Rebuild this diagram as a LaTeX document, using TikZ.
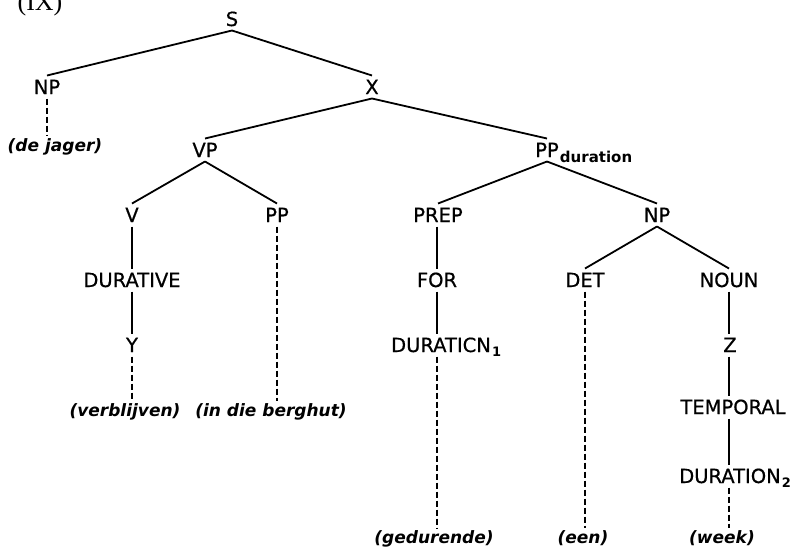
\documentclass[tikz,border=0pt]{standalone}
\usepackage{fontspec}
\setmainfont{DejaVu Sans}
\newfontfamily\labfont[FakeBold=0.6]{DejaVu Sans}
\newfontfamily\romfont{Liberation Serif}
\begin{document}
\begin{tikzpicture}[x=1pt,y=-1pt,
  lab/.style={font=\labfont\fontsize{19.5}{20}\selectfont, inner sep=0pt, outer sep=4.5pt, text height=14pt, text depth=0pt},
  leaf/.style={font=\fontsize{17}{18}\selectfont\bfseries\itshape, inner sep=0pt, outer sep=3pt, text height=12pt, text depth=0pt},
  subsc/.style={font=\fontsize{13}{13}\selectfont\bfseries, inner sep=0pt, anchor=base west},
  branch/.style={line width=1.8pt},
  stem/.style={line width=1.2pt},
  dashline/.style={line width=1.3pt, dash pattern=on 6pt off 3pt}]
\useasboundingbox (0,0) rectangle (796,547);

\node[font=\romfont\fontsize{26}{26}\selectfont, inner sep=0pt, anchor=base] (ix) at (40,10) {(IX)};

% tree labels
\node[lab] (S) at (232,19) {S};
\node[lab] (NPa) at (47,87) {NP};
\node[lab] (X) at (372,87) {X};
\node[leaf] (dejager) at (55,145) {(de jager)};
\node[lab] (VP) at (205,150) {VP};
\node[lab] (PPd) at (547,150) {PP};
\node[subsc, font=\fontsize{15}{15}\selectfont\bfseries] (ppsub) at ([xshift=-3.5pt,yshift=-5pt]PPd.base east) {duration};
\node[lab] (V) at (132,215) {V};
\node[lab] (PPb) at (277,215) {PP};
\node[lab] (PREP) at (438,215) {PREP};
\node[lab] (NPb) at (657,215) {NP};
\node[lab] (DURATIVE) at (132,280) {DURATIVE};
\node[lab] (FOR) at (437,280) {FOR};
\node[lab] (DET) at (585,280) {DET};
\node[lab] (NOUN) at (729,280) {NOUN};
\node[lab] (Y) at (132,345) {Y};
\node[lab] (DURa) at (441,345) {DURATICN};
\node[subsc] (dursuba) at ([xshift=-3.5pt,yshift=-4pt]DURa.base east) {1};
\node[lab] (Z) at (730,345) {Z};
\node[leaf] (verblijven) at (125,410) {(verblijven)};
\node[leaf] (berghut) at (271,410) {(in die berghut)};
\node[lab] (TEMPORAL) at (733,407) {TEMPORAL};
\node[lab] (DURb) at (730,476) {DURATION};
\node[subsc] (dursubb) at ([xshift=-3.5pt,yshift=-4pt]DURb.base east) {2};
\node[leaf] (gedurende) at (434,537) {(gedurende)};
\node[leaf] (een) at (583,537) {(een)};
\node[leaf] (week) at (722,537) {(week)};

% branches
\draw[branch] (S.south) -- (NPa.north);
\draw[branch] (S.south) -- (X.north);
\draw[branch] (X.south) -- (VP.north);
\draw[branch] (X.south) -- (PPd.north);
\draw[branch] (VP.south) -- (V.north);
\draw[branch] (VP.south) -- (PPb.north);
\draw[branch] (PPd.south) -- (PREP.north);
\draw[branch] (PPd.south) -- (NPb.north);
\draw[branch] (NPb.south) -- (DET.north);
\draw[branch] (NPb.south) -- (NOUN.north);

% solid stems
\draw[stem] (V.south) -- (DURATIVE.north);
\draw[stem] (DURATIVE.south) -- (Y.north);
\draw[stem] (PREP.south -| FOR.south) -- (FOR.north);
\draw[stem] (FOR.south) -- (FOR.south |- DURa.north);
\draw[stem] (NOUN.south) -- (Z.north -| NOUN.south);
\draw[stem] (Z.south -| NOUN.south) -- (NOUN.south |- TEMPORAL.north);
\draw[stem] (NOUN.south |- TEMPORAL.south) -- (NOUN.south |- DURb.north);

% dashed stems
\draw[dashline] (NPa.south) -- (NPa.south |- dejager.north);
\draw[dashline] (Y.south) -- (Y.south |- verblijven.north);
\draw[dashline] (PPb.south) -- (PPb.south |- berghut.north);
\draw[dashline] (FOR.south |- DURa.south) -- (FOR.south |- gedurende.north);
\draw[dashline] (DET.south) -- (DET.south |- een.north);
\draw[dashline] (NOUN.south |- DURb.south) -- (NOUN.south |- week.north);
\end{tikzpicture}
\end{document}
